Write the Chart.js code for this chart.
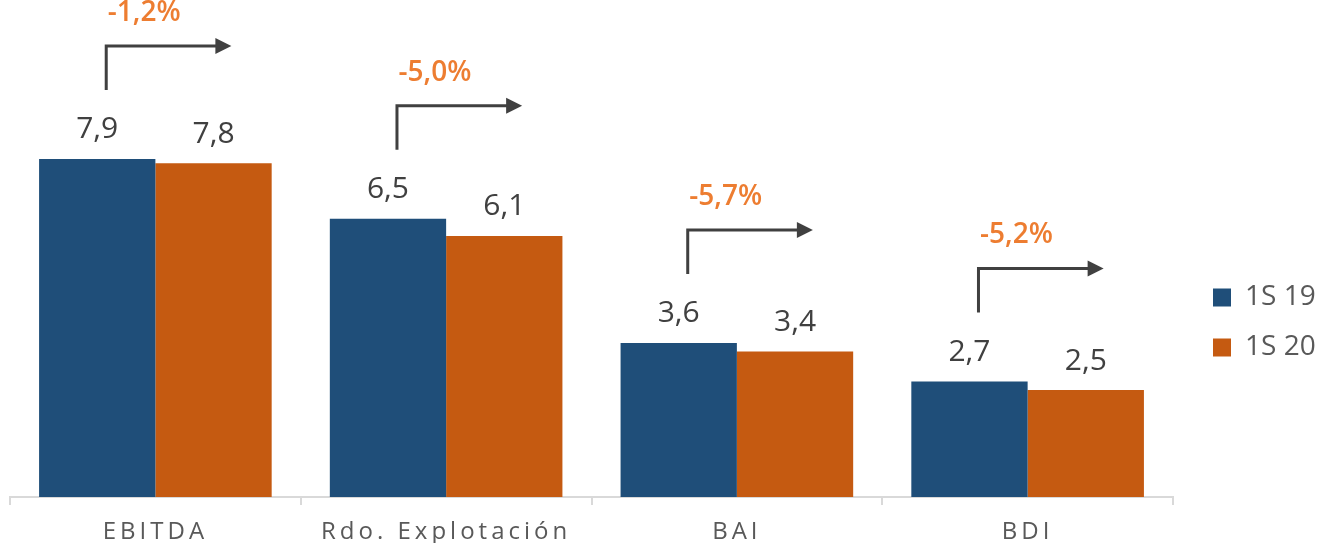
<!DOCTYPE html>
<html><head><meta charset="utf-8">
<script src="https://cdn.jsdelivr.net/npm/chart.js@4/dist/chart.umd.min.js"></script>
<style>html,body{margin:0;padding:0;background:#fff}#wrap{width:1319px;height:543px;position:relative}</style>
</head><body><div id="wrap"><canvas id="c"></canvas></div>
<script>
const categories = ['EBITDA', 'Rdo. Explotación', 'BAI', 'BDI'];
const seriesNames = ['1S 19', '1S 20'];
const values1S19 = [7.9, 6.5, 3.6, 2.7];
const values1S20 = [7.8, 6.1, 3.4, 2.5];
const changeLabels = ['-1,2%', '-5,0%', '-5,7%', '-5,2%'];

const FONT = "'Open Sans', 'Noto Sans', sans-serif";
const BLUE = '#1F4E79';
const ORANGE = '#C55A11';

const fmt = v => v.toFixed(1).replace('.', ',');

const valueLabels = {
  id: 'valueLabels',
  afterDatasetsDraw(chart) {
    const ctx = chart.ctx;
    ctx.save();
    ctx.font = '30px ' + FONT;
    ctx.fillStyle = '#404040';
    ctx.textAlign = 'center';
    ctx.textBaseline = 'middle';
    chart.data.datasets.forEach((ds, di) => {
      const meta = chart.getDatasetMeta(di);
      meta.data.forEach((el, i) => {
        ctx.fillText(fmt(ds.data[i]), el.x, el.y - 29);
      });
    });
    ctx.restore();
  }
};

const changeArrows = {
  id: 'changeArrows',
  afterDraw(chart) {
    const ctx = chart.ctx;
    const meta = chart.getDatasetMeta(0);
    const xs = chart.scales.x;
    ctx.save();
    meta.data.forEach((el, i) => {
      const x0 = el.x + 9;
      const yb = el.y - 69;
      const yt = yb - 44;
      const xr = xs.getPixelForValue(i) + 76;
      ctx.strokeStyle = '#404040';
      ctx.fillStyle = '#404040';
      ctx.lineWidth = 3;
      ctx.lineJoin = 'miter';
      ctx.beginPath();
      ctx.moveTo(x0, yb);
      ctx.lineTo(x0, yt);
      ctx.lineTo(xr - 12, yt);
      ctx.stroke();
      ctx.beginPath();
      ctx.moveTo(xr, yt);
      ctx.lineTo(xr - 16, yt - 8);
      ctx.lineTo(xr - 16, yt + 8);
      ctx.closePath();
      ctx.fill();
      ctx.font = '600 28px ' + FONT;
      ctx.fillStyle = '#ED7D31';
      ctx.textAlign = 'center';
      ctx.textBaseline = 'middle';
      ctx.fillText(changeLabels[i], x0 + 38, yt - 33);
    });
    ctx.restore();
  }
};

const spacedXLabels = {
  id: 'spacedXLabels',
  beforeDraw(chart) {
    const s = chart.scales.x;
    if (!s._spacedWrapped) {
      const orig = s.drawLabels;
      s.drawLabels = function (area) {
        const ctx = this.ctx;
        ctx.save();
        ctx.letterSpacing = '4px';
        orig.call(this, area);
        ctx.restore();
      };
      s._spacedWrapped = true;
    }
  }
};

new Chart(document.getElementById('c'), {
  type: 'bar',
  data: {
    labels: categories,
    datasets: [
      { label: seriesNames[0], data: values1S19, backgroundColor: BLUE },
      { label: seriesNames[1], data: values1S20, backgroundColor: ORANGE }
    ]
  },
  options: {
    responsive: true,
    maintainAspectRatio: false,
    animation: false,
    devicePixelRatio: 1,
    layout: { padding: { left: 10, top: 102, right: 0, bottom: 0 } },
    datasets: { bar: { categoryPercentage: 0.8, barPercentage: 1.0 } },
    plugins: {
      legend: {
        position: 'right',
        align: 'center',
        maxWidth: 128,
        labels: {
          boxWidth: 18, boxHeight: 18, padding: 22,
          font: { family: FONT, size: 28 },
          color: '#595959'
        }
      },
      tooltip: { enabled: false }
    },
    scales: {
      x: {
        grid: { display: true, drawOnChartArea: false, offset: true, tickLength: 8, color: '#D9D9D9', lineWidth: 2 },
        border: { display: true, color: '#D9D9D9', width: 2 },
        ticks: { font: { family: FONT, size: 24 }, color: '#595959', padding: 13 },
        afterFit(scale) { scale.height = 46; }
      },
      y: {
        position: 'right',
        min: 0, max: 9.23,
        grid: { display: false },
        border: { display: false },
        ticks: { display: false },
        afterFit(scale) { scale.width = 18; }
      }
    }
  },
  plugins: [spacedXLabels, valueLabels, changeArrows]
});
</script>
</body></html>
